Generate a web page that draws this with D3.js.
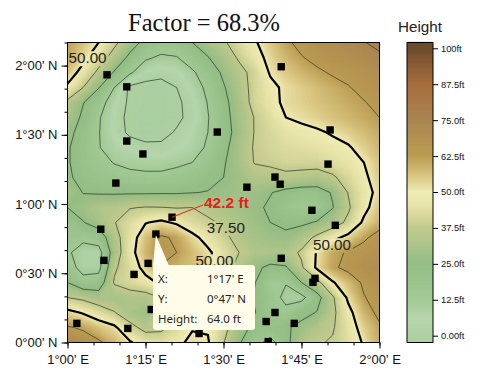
<!DOCTYPE html>
<html>
<head>
<meta charset="utf-8">
<script src="https://d3js.org/d3.v7.min.js"></script>
<style>
html,body{margin:0;padding:0;background:#fff}
svg{display:block}
</style>
</head>
<body>
<svg id="chart" width="483" height="386"></svg>
<script>
// longitude and latitude are in minutes of arc
const lonDomain = [60, 120];
const latDomain = [0, 130];
const lonStep = 3, latStep = 6.5;
const heightRows = [
[62,56,50,40,30,22,18,19,25,31,36,43,49,55,61,65,68,70,72,74.5,78],
[60,53,43,33,22.5,14,11,12,18,24.5,31,39,46,53,58,62,65,67,69,71,73],
[56,46,35,24,14,6,3,5,11,18,27,34,41,51,55,58,61,63.5,65,67,70],
[48,37.5,25.5,12.5,-2,-4,-4,0,7,15,24,32.5,41,47.5,52,54.5,57,59.5,62,65,68],
[35,25.5,17,7,-2,-5,-5,-2,4,13,22,31,41,46,52.5,54,56,58,60,62,65],
[32,23,13.5,5,-3,-6,-6,-2,3,12,21,30,38,44,50,52,54,56,58,60,62.5],
[28,21,13,5,-2,-5,-3,1,6,12.5,20.5,29,38,42,45,47,48.5,51,54,57,60],
[26,20,13,8,5,3,2,5,8,14,22,31,38.5,41,43,44,45,47,49,54,58],
[26,20,16,12,10,9,9,10.5,12.5,18,24,31,38,39,41,41,41,43,46,50,56],
[27,21,19,17,15.5,15,15,16.5,19,22,25,29,33,34,35,34,33,36,42,48,55],
[31,24.7,24,23.8,23.8,23.8,24,24,24.7,25.4,27,29,28,25.5,22,20,20,26,38,46,53],
[25,29,33,34,37,38,37.8,37,37.5,34,31,29,27,23.5,18,15,16,24.5,36,47,56],
[19,24.5,30,37,43,49.5,52,48.5,43,39.5,36,32,28.5,25,23,23,26,32,40,52,59],
[18,15,18,33,45,56,64,61,53,46,40,34,30,28,27,32,40,47,53,61,66],
[14,8,8,31,46,58,65,62.5,57,52,44,37.5,33,32,33,39,51,60,63.5,66,68],
[18,8,9,36,43,54,62,59,57,53,44,33,27,23,24,36,52,61,65,68,70],
[25,17,18,38.5,42,46,52,54,53,48,40,32,25.5,14,13,25,34,49,57,64,68],
[37.5,35,31,31,33,33,38,42,44,41,36,30,24,17,10,9.5,21,36,52,62,66],
[53,49,43.5,38,31,28,34,40,46,42,37,30,25.5,17,15,21.5,25.5,35,47,58,65],
[63.5,61,56,52,41,34,35,42,49,49,41,30,22,21,23.5,28,33,36.5,45,54,61],
[72,68,64,58,51,45,44,47,53,51,38,26,17,8,22,33,36.5,38.5,44,51,60]
];
const sampleLon = [67.6,71.4,71.4,74.5,69.3,88.8,101.1,110.5,110.1,99.9,100.9,94.5,107,111.5,80.1,77,66.4,67,75.5,72.8,61.8,71.6,76.1,85.3,101.1,107.6,107.2,99.9,98.2,103.6,98.6];
const sampleLat = [116,110.8,87.3,81.7,69.1,91.2,119.5,92.1,77.3,71.7,68.6,67.3,57.3,50.8,54.3,47,49.1,35.6,34.3,29.5,8.3,6.1,14.3,3.9,36.5,27.8,26.1,13,9.1,8.3,0.4];
const thinLevels = [12.5,25,37.5,62.5,75,0];
const boldLevels = [50];
const lonTicks = [60,75,90,105,120];
const latTicks = [0,30,60,90,120];
const barTicks = [100,87.5,75,62.5,50,37.5,25,12.5,0];
const barLabels = ["100ft","87.5ft","75.0ft","62.5ft","50.0ft","37.5ft","25.0ft","12.5ft","0.00ft"];
const rampStops = [-8,0,6,12.5,25,37.5,45,50,55,62.5,75,87.5,100,104];
const rampColors = ["#a9cf9f","#aed0a2","#b6d6ac","#a3ca96","#93bd84","#c2ca8d","#e6e2a6","#f0ecb6","#dcc985","#bb9c52","#a98550","#a86c3c","#6e4c2c","#6a4a2b"];
const titleText = "Factor = 68.3%";
const barTitle = "Height";
const labelTexts = ["50.00","37.50","50.00","50.00"];
const labelLon = [60.2,86.8,107.2,84.6];
const labelLat = [121,47.5,40,33];
const pickLon = 80.1, pickLat = 54.3, pickText = "42.2 ft";
const tipNames = ["X:","Y:","Height:"];
const tipValues = ["1°17' E","0°47' N","64.0 ft"];
const tipLon = 77, tipLat = 47;

const svg = d3.select("#chart");
const x = d3.scaleLinear().domain(lonDomain).range([67.5,379.5]);
const y = d3.scaleLinear().domain(latDomain).range([342.5,42.5]);
const color = d3.scaleLinear().domain(rampStops).range(rampColors).interpolate(d3.interpolateRgb).clamp(true);

const defs = svg.append("defs");
defs.append("clipPath").attr("id","plotClip").append("rect")
  .attr("x",x(60)).attr("y",y(130)).attr("width",x(120)-x(60)).attr("height",y(0)-y(130));

const ny = heightRows.length, nx = heightRows[0].length;
const flat = heightRows.flat();
const contours = d3.contours().size([nx,ny]).smooth(true);
const proj = d3.geoTransform({point(px,py){
  this.stream.point(x(lonDomain[0]+(px-0.5)*lonStep), y(latDomain[1]-(py-0.5)*latStep));
}});
const path = d3.geoPath(proj);

const plot = svg.append("g").attr("clip-path","url(#plotClip)");
plot.append("rect").attr("x",x(60)).attr("y",y(130)).attr("width",x(120)-x(60)).attr("height",y(0)-y(130)).attr("fill",color(-8));
const bands = d3.range(-8,100,0.5);
plot.append("g").selectAll("path").data(bands).join("path")
  .attr("d",t=>path(contours.contour(flat,t)))
  .attr("fill",t=>color(t+0.25)).attr("stroke",t=>color(t+0.25)).attr("stroke-width",0.3);

const labelBoxes = labelTexts.map((t,i)=>({x:x(labelLon[i])-1,y:y(labelLat[i])-12,w:41,h:15}));
const mask = defs.append("mask").attr("id","lineMask").attr("maskUnits","userSpaceOnUse")
  .attr("x",0).attr("y",0).attr("width",483).attr("height",386);
mask.append("rect").attr("width",483).attr("height",386).attr("fill","#fff");
mask.selectAll("rect.b").data(labelBoxes).join("rect").attr("class","b")
  .attr("x",d=>d.x).attr("y",d=>d.y).attr("width",d=>d.w).attr("height",d=>d.h).attr("fill","#000");

const lines = plot.append("g").attr("mask","url(#lineMask)").attr("fill","none");
lines.selectAll("path.thin").data(thinLevels).join("path").attr("class","thin")
  .attr("d",t=>path(contours.contour(flat,t))).attr("stroke","#2a3a28").attr("stroke-width",0.7);
lines.selectAll("path.bold").data(boldLevels).join("path").attr("class","bold")
  .attr("d",t=>path(contours.contour(flat,t))).attr("stroke","#000").attr("stroke-width",2.2);

plot.append("g").selectAll("rect").data(sampleLon).join("rect")
  .attr("x",(d)=>x(d)-3.7).attr("y",(d,i)=>y(sampleLat[i])-3.7)
  .attr("width",7.4).attr("height",7.4).attr("fill","#000");

const sans = "'Liberation Sans',Arial,sans-serif";
svg.append("g").selectAll("text").data(labelTexts).join("text")
  .attr("x",(d,i)=>x(labelLon[i])).attr("y",(d,i)=>y(labelLat[i]))
  .attr("font-family",sans).attr("font-size",15.2).attr("fill","#222").text(d=>d);

// red callout
svg.append("line").attr("x1",x(pickLon)).attr("y1",y(pickLat)).attr("x2",203).attr("y2",205)
  .attr("stroke","#e8201c").attr("stroke-width",1);
svg.append("text").attr("x",204).attr("y",208).attr("font-family",sans).attr("font-weight","bold")
  .attr("font-size",15.5).attr("fill","#e8201c").text(pickText);

// tooltip
const tip = svg.append("g");
const tx = x(tipLon), ty = y(tipLat);
tip.append("path").attr("d",`M${tx},${ty+1}L153,266L169,266Z`).attr("fill","#fffef0");
tip.append("rect").attr("x",153).attr("y",265).attr("width",102).attr("height",65).attr("rx",3)
  .attr("fill","#fffde9");
const tipFont = "'Noto Sans','Open Sans',sans-serif";
tipNames.forEach((n,i)=>{
  tip.append("text").attr("x",158).attr("y",283+20*i).attr("font-family",tipFont).attr("font-size",11.5).attr("fill","#222").text(n);
  tip.append("text").attr("x",207).attr("y",283+20*i).attr("font-family",tipFont).attr("font-size",11.5).attr("fill","#222").text(tipValues[i]);
});

// axes
const fmt = (v,h)=>{const d=Math.floor(v/60),m=Math.round(v-d*60);return `${d}°${String(m).padStart(2,"0")}' ${h}`;};
const xAxis = svg.append("g").attr("transform",`translate(0,${y(0)})`)
  .call(d3.axisBottom(x).tickValues(lonTicks).tickSize(6).tickPadding(6).tickFormat(v=>fmt(v,"E")));
const xMinor = svg.append("g").attr("transform",`translate(0,${y(0)})`)
  .call(d3.axisBottom(x).tickValues(d3.range(60,121,5)).tickSize(3).tickFormat(""));
const yAxis = svg.append("g").attr("transform",`translate(${x(60)},0)`)
  .call(d3.axisLeft(y).tickValues(latTicks).tickSize(6).tickPadding(4).tickFormat(v=>fmt(v,"N")));
const yMinor = svg.append("g").attr("transform",`translate(${x(60)},0)`)
  .call(d3.axisLeft(y).tickValues(d3.range(0,131,10)).tickSize(3).tickFormat(""));
[xAxis,xMinor,yAxis,yMinor].forEach(a=>{
  a.select(".domain").remove();
  a.selectAll("text").attr("font-family",sans).attr("font-size",13).attr("fill","#111");
});
svg.append("rect").attr("x",x(60)).attr("y",y(130)).attr("width",x(120)-x(60)).attr("height",y(0)-y(130))
  .attr("fill","none").attr("stroke","#000").attr("stroke-width",1);

// title
svg.append("text").attr("x",204).attr("y",31).attr("text-anchor","middle")
  .attr("font-family","'Liberation Serif','Times New Roman',serif").attr("font-size",24.5).attr("fill","#111").text(titleText);

// colour bar
const bar = d3.scaleLinear().domain([0,100]).range([335.7,48.3]);
const barVals = d3.range(bar.invert(342.5),bar.invert(42.5),0.25);
svg.append("g").selectAll("rect").data(barVals).join("rect")
  .attr("x",407).attr("width",26).attr("y",d=>bar(d)-1).attr("height",1.4)
  .attr("fill",d=>color(d));
svg.append("rect").attr("x",407).attr("y",42.5).attr("width",26).attr("height",300)
  .attr("fill","none").attr("stroke","#000").attr("stroke-width",1);
const barAxis = svg.append("g").attr("transform","translate(433,0)")
  .call(d3.axisRight(bar).tickValues(barTicks).tickSize(5).tickPadding(3).tickFormat((d,i)=>barLabels[i]));
barAxis.select(".domain").remove();
barAxis.selectAll("text").attr("font-family",sans).attr("font-size",9.3).attr("fill","#111");
svg.append("text").attr("x",420).attr("y",32).attr("text-anchor","middle")
  .attr("font-family",sans).attr("font-size",15.2).attr("fill","#222").text(barTitle);
</script>
</body>
</html>
